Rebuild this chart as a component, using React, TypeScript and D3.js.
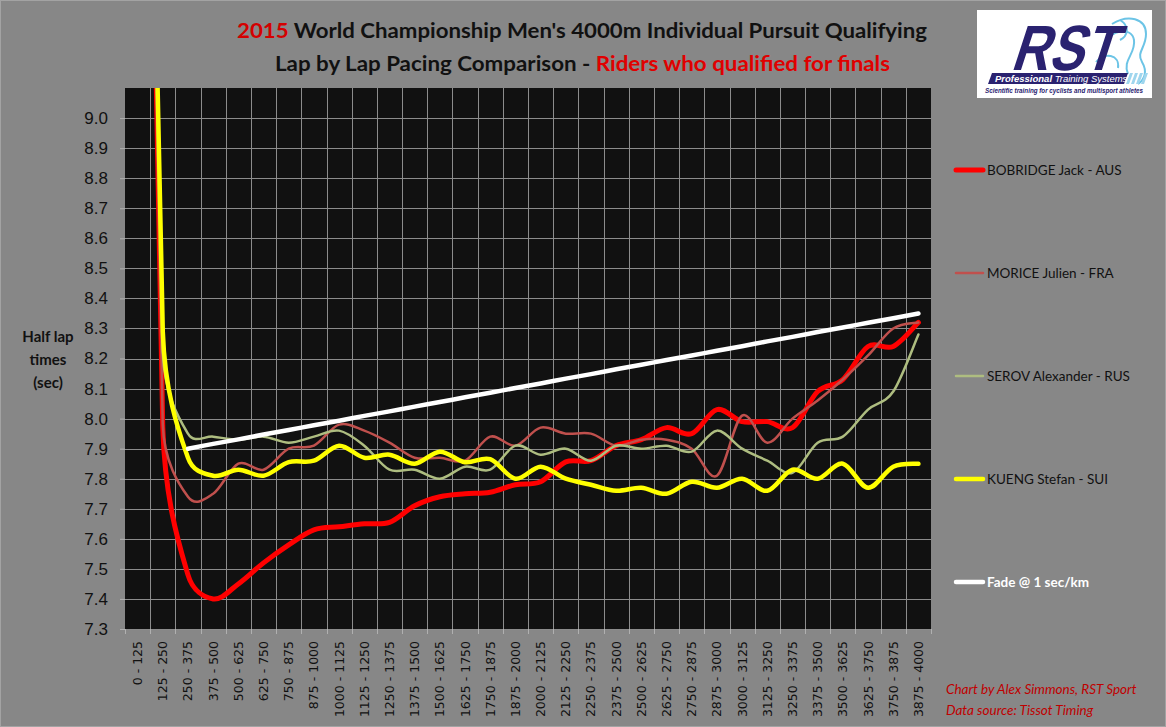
import React, { useEffect, useRef } from 'react';
import * as d3 from 'd3';

// half-lap splits (sec)
const categories = [
  '0 - 125', '125 - 250', '250 - 375', '375 - 500', '500 - 625', '625 - 750', '750 - 875', '875 - 1000',
  '1000 - 1125', '1125 - 1250', '1250 - 1375', '1375 - 1500', '1500 - 1625', '1625 - 1750', '1750 - 1875', '1875 - 2000',
  '2000 - 2125', '2125 - 2250', '2250 - 2375', '2375 - 2500', '2500 - 2625', '2625 - 2750', '2750 - 2875', '2875 - 3000',
  '3000 - 3125', '3125 - 3250', '3250 - 3375', '3375 - 3500', '3500 - 3625', '3625 - 3750', '3750 - 3875', '3875 - 4000',
];

const bobridge = [
  12.9, 7.97, 7.48, 7.40, 7.45, 7.52, 7.58, 7.63, 7.64, 7.65, 7.655, 7.71, 7.74, 7.75, 7.755, 7.78,
  7.79, 7.856, 7.86, 7.91, 7.93, 7.97, 7.95, 8.03, 7.99, 7.99, 7.97, 8.09, 8.13, 8.24, 8.24, 8.32,
];
const morice = [
  12.8, 7.98, 7.74, 7.75, 7.85, 7.83, 7.90, 7.91, 7.98, 7.96, 7.92, 7.87, 7.87, 7.86, 7.94, 7.91,
  7.97, 7.95, 7.95, 7.91, 7.93, 7.93, 7.90, 7.81, 8.01, 7.92, 8.00, 8.06, 8.13, 8.21, 8.30, 8.32,
];
const serov = [
  12.6, 8.22, 7.95, 7.94, 7.93, 7.94, 7.92, 7.94, 7.96, 7.91, 7.83, 7.83, 7.80, 7.84, 7.83, 7.91,
  7.88, 7.90, 7.86, 7.91, 7.90, 7.91, 7.89, 7.96, 7.90, 7.86, 7.82, 7.92, 7.94, 8.03, 8.09, 8.28,
];
const kueng = [
  12.7, 8.29, 7.87, 7.81, 7.83, 7.81, 7.855, 7.86, 7.91, 7.87, 7.88, 7.85, 7.89, 7.855, 7.865, 7.80,
  7.84, 7.80, 7.78, 7.76, 7.77, 7.75, 7.79, 7.77, 7.80, 7.76, 7.83, 7.80, 7.85, 7.77, 7.84, 7.85,
];
const fade = [
  null, null, 7.900, 7.916, 7.931, 7.947, 7.962, 7.978, 7.993, 8.009, 8.024, 8.040, 8.055, 8.071, 8.086, 8.102,
  8.117, 8.133, 8.148, 8.164, 8.179, 8.195, 8.210, 8.226, 8.241, 8.257, 8.272, 8.288, 8.303, 8.319, 8.334, 8.350,
];

const yTicks = [7.3, 7.4, 7.5, 7.6, 7.7, 7.8, 7.9, 8.0, 8.1, 8.2, 8.3, 8.4, 8.5, 8.6, 8.7, 8.8, 8.9, 9.0];
const seriesNames = ['BOBRIDGE Jack - AUS', 'MORICE Julien - FRA', 'SEROV Alexander - RUS', 'KUENG Stefan - SUI', 'Fade @ 1 sec/km'];

const W = 1166;
const H = 727;
const plot = { left: 125, right: 931, top: 88, bottom: 629 };

// spreadsheet-style smoothing: bezier handles along (next - prev) / 6,
// clamped to half the segment so a huge first split doesn't overshoot
const smoothCurve = (context: any) => {
  let pts: [number, number][] = [];
  const handle = (i: number, segLen: number): [number, number] => {
    const a = pts[Math.max(0, i - 1)];
    const b = pts[Math.min(pts.length - 1, i + 1)];
    let hx = (b[0] - a[0]) / 6;
    let hy = (b[1] - a[1]) / 6;
    const len = Math.hypot(hx, hy);
    const max = segLen / 2;
    if (len > max && len > 0) {
      hx *= max / len;
      hy *= max / len;
    }
    return [hx, hy];
  };
  return {
    areaStart() {},
    areaEnd() {},
    lineStart() { pts = []; },
    point(px: number, py: number) { pts.push([+px, +py]); },
    lineEnd() {
      if (!pts.length) return;
      context.moveTo(pts[0][0], pts[0][1]);
      for (let i = 0; i < pts.length - 1; i++) {
        const p = pts[i];
        const q = pts[i + 1];
        const seg = Math.hypot(q[0] - p[0], q[1] - p[1]);
        const h0 = handle(i, seg);
        const h1 = handle(i + 1, seg);
        context.bezierCurveTo(p[0] + h0[0], p[1] + h0[1], q[0] - h1[0], q[1] - h1[1], q[0], q[1]);
      }
    },
  };
};

const App: React.FC = () => {
  const svgRef = useRef<SVGSVGElement>(null);

  useEffect(() => {
    if (!svgRef.current) return;
    const svg = d3.select(svgRef.current);
    svg.selectAll('*').remove();

    const series = [
      { name: seriesNames[0], values: bobridge, color: '#ff0000', width: 5, bold: false },
      { name: seriesNames[1], values: morice, color: '#c0504d', width: 2.5, bold: false },
      { name: seriesNames[2], values: serov, color: '#aebd80', width: 2.5, bold: false },
      { name: seriesNames[3], values: kueng, color: '#ffff00', width: 4.5, bold: false },
      { name: seriesNames[4], values: fade, color: '#ffffff', width: 4.5, bold: true },
    ];

    const x = d3.scaleBand<string>().domain(categories).range([plot.left, plot.right]).padding(0);
    const cx = (c: string) => (x(c) as number) + x.bandwidth() / 2;
    const y = d3.scaleLinear().domain([7.3, 9.1]).range([plot.bottom, plot.top]);

    // background
    svg.append('rect')
      .attr('x', 0.5).attr('y', 0.5).attr('width', W - 1).attr('height', H - 1)
      .attr('fill', '#878787').attr('stroke', '#a3a3a3');

    svg.append('defs').append('clipPath').attr('id', 'plotClip')
      .append('rect')
      .attr('x', plot.left).attr('y', plot.top)
      .attr('width', plot.right - plot.left).attr('height', plot.bottom - plot.top);

    svg.append('rect')
      .attr('x', plot.left).attr('y', plot.top)
      .attr('width', plot.right - plot.left).attr('height', plot.bottom - plot.top)
      .attr('fill', '#111111');

    // grid
    const grid = svg.append('g').attr('stroke', '#8c8c8c').attr('stroke-width', 1);
    grid.selectAll('.hg')
      .data(yTicks)
      .enter()
      .append('line')
      .attr('x1', plot.left).attr('x2', plot.right)
      .attr('y1', d => Math.round(y(d)) + 0.5).attr('y2', d => Math.round(y(d)) + 0.5);
    grid.selectAll('.vg')
      .data(categories.slice(1))
      .enter()
      .append('line')
      .attr('y1', plot.top).attr('y2', plot.bottom)
      .attr('x1', d => Math.round(x(d) as number) + 0.5).attr('x2', d => Math.round(x(d) as number) + 0.5);

    // y axis
    const yAxis = svg.append('g')
      .attr('transform', `translate(${plot.left},0)`)
      .call(d3.axisLeft(y).tickValues(yTicks).tickFormat(d3.format('.1f')).tickSize(5).tickPadding(12));
    yAxis.select('.domain').remove();
    yAxis.selectAll('line').attr('stroke', '#b0b0b0');
    yAxis.selectAll('text')
      .attr('fill', '#111')
      .style('font-family', '"Liberation Sans", Arial, sans-serif')
      .style('font-size', '17px');

    // x axis: ticks on band boundaries, labels rotated
    const xg = svg.append('g');
    xg.selectAll('.xt')
      .data(categories)
      .enter()
      .append('line')
      .attr('x1', d => Math.round(x(d) as number) + 0.5).attr('x2', d => Math.round(x(d) as number) + 0.5)
      .attr('y1', plot.bottom).attr('y2', plot.bottom + 5)
      .attr('stroke', '#b0b0b0');
    xg.append('line')
      .attr('x1', plot.right + 0.5).attr('x2', plot.right + 0.5)
      .attr('y1', plot.bottom).attr('y2', plot.bottom + 5)
      .attr('stroke', '#b0b0b0');
    xg.selectAll('.xl')
      .data(categories)
      .enter()
      .append('text')
      .attr('transform', d => `translate(${cx(d) + 4.5},${plot.bottom + 12}) rotate(-90)`)
      .attr('text-anchor', 'end')
      .attr('fill', '#111')
      .style('font-family', '"DejaVu Sans", Verdana, sans-serif')
      .style('font-size', '12.5px')
      .text(d => d);

    // series
    const line = d3.line<number | null>()
      .defined(d => d !== null)
      .x((_, i) => cx(categories[i]))
      .y(d => y(d as number))
      .curve(smoothCurve as any);

    const lines = svg.append('g').attr('clip-path', 'url(#plotClip)');
    series.forEach(s => {
      lines.append('path')
        .attr('d', line(s.values as (number | null)[]) as string)
        .attr('fill', 'none')
        .attr('stroke', s.color)
        .attr('stroke-width', s.width)
        .attr('stroke-linecap', 'round')
        .attr('stroke-linejoin', 'round');
    });

    // legend
    const legend = svg.append('g');
    const legendItem = legend.selectAll('.li')
      .data(series)
      .enter()
      .append('g')
      .attr('transform', (d, i) => `translate(956,${170 + i * 103})`);
    legendItem.append('line')
      .attr('x1', 0).attr('x2', 27)
      .attr('stroke', d => d.color)
      .attr('stroke-width', d => d.width)
      .attr('stroke-linecap', 'round');
    legendItem.append('text')
      .attr('x', 31).attr('y', 5)
      .attr('fill', d => (d.bold ? '#ffffff' : '#111'))
      .style('font-family', 'Lato, sans-serif')
      .style('font-size', '13.5px')
      .style('font-weight', d => (d.bold ? 700 : 400))
      .text(d => d.name);

    // titles
    const titleFont = 'Lato, "Open Sans", sans-serif';
    const t1 = svg.append('text')
      .attr('x', 237).attr('y', 38)
      .attr('textLength', 690).attr('lengthAdjust', 'spacingAndGlyphs')
      .style('font-family', titleFont).style('font-size', '21.5px').style('font-weight', 700);
    t1.append('tspan').attr('fill', '#d40000').text('2015');
    t1.append('tspan').attr('fill', '#111').text(" World Championship Men's 4000m Individual Pursuit Qualifying");

    const t2 = svg.append('text')
      .attr('x', 275).attr('y', 71)
      .attr('textLength', 615).attr('lengthAdjust', 'spacingAndGlyphs')
      .style('font-family', titleFont).style('font-size', '21.5px').style('font-weight', 700);
    t2.append('tspan').attr('fill', '#111').text('Lap by Lap Pacing Comparison - ');
    t2.append('tspan').attr('fill', '#e00000').text('Riders who qualified for finals');

    // y axis title
    const yt = svg.append('text')
      .attr('text-anchor', 'middle')
      .attr('fill', '#111')
      .style('font-family', titleFont).style('font-size', '15px').style('font-weight', 700);
    ['Half lap', 'times', '(sec)'].forEach((s, i) => {
      yt.append('tspan').attr('x', 48).attr('y', 342 + i * 23).text(s);
    });

    // footer credits
    const foot = svg.append('g')
      .attr('fill', '#c00000')
      .style('font-family', 'Lato, sans-serif').style('font-size', '13.5px').style('font-style', 'italic');
    foot.append('text').attr('x', 946).attr('y', 694).text('Chart by Alex Simmons, RST Sport');
    foot.append('text').attr('x', 946).attr('y', 715).text('Data source: Tissot Timing');

    // logo
    const logo = svg.append('g');
    logo.append('rect').attr('x', 977).attr('y', 10).attr('width', 175).attr('height', 88).attr('fill', '#ffffff');
    logo.append('path')
      .attr('d', 'M1112,24 C1128,14 1146,18 1146,34 C1146,48 1136,52 1142,62 C1148,72 1144,80 1138,84 M1104,44 C1110,30 1132,26 1134,40 C1136,54 1122,60 1128,74 M1096,62 C1104,52 1120,54 1118,68 M1120,20 C1130,26 1128,36 1120,40')
      .attr('fill', 'none').attr('stroke', '#6cc4e6').attr('stroke-width', 2);
    logo.append('text')
      .attr('transform', 'translate(1062,70) skewX(-18)')
      .attr('text-anchor', 'middle')
      .attr('fill', '#2a2270')
      .attr('textLength', 104).attr('lengthAdjust', 'spacingAndGlyphs')
      .style('font-family', '"Liberation Sans", Arial, sans-serif')
      .style('font-size', '64px').style('font-weight', 700)
      .text('RST');
    logo.append('path')
      .attr('d', 'M992,73 L1128,73 L1124,84 L988,84 Z')
      .attr('fill', '#2a2270');
    [0, 1, 2, 3].forEach(i => {
      logo.append('path')
        .attr('d', `M${1130 + i * 5},73 L${1133 + i * 5},73 L${1129 + i * 5},84 L${1126 + i * 5},84 Z`)
        .attr('fill', '#9fd6ee');
    });
    const band = logo.append('text')
      .attr('x', 995).attr('y', 82)
      .attr('fill', '#ffffff')
      .style('font-family', '"Liberation Sans", Arial, sans-serif')
      .style('font-size', '9.5px').style('font-style', 'italic');
    band.append('tspan').style('font-weight', 700).text('Professional ');
    band.append('tspan').text('Training Systems');
    logo.append('text')
      .attr('x', 985).attr('y', 93)
      .attr('fill', '#2a2270')
      .attr('textLength', 158).attr('lengthAdjust', 'spacingAndGlyphs')
      .style('font-family', '"Liberation Sans", Arial, sans-serif')
      .style('font-size', '6.5px').style('font-weight', 700).style('font-style', 'italic')
      .text('Scientific training for cyclists and multisport athletes');
  }, []);

  return (
    <svg
      ref={svgRef}
      width={W}
      height={H}
      style={{ position: 'absolute', left: 0, top: 0, display: 'block' }}
    ></svg>
  );
};

export default App;
